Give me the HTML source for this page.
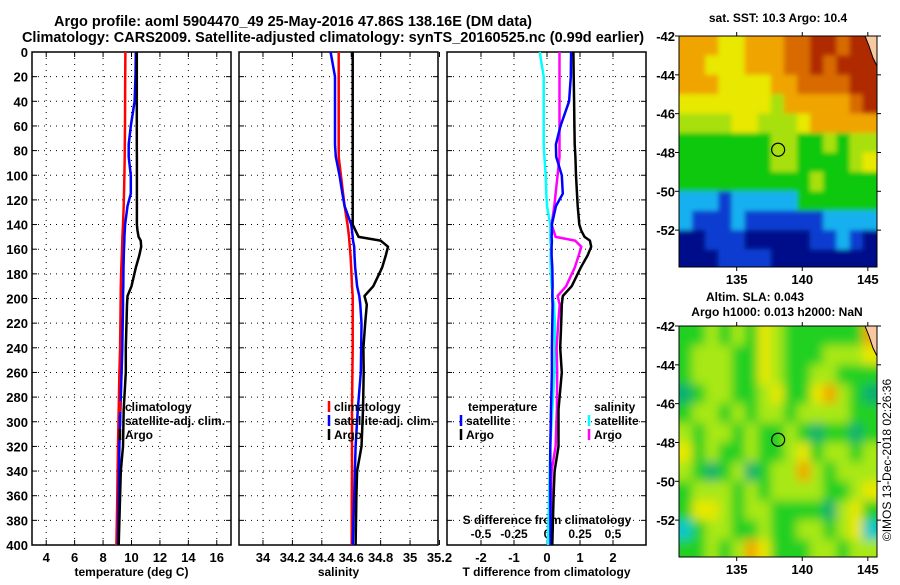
<!DOCTYPE html>
<html><head><meta charset="utf-8"><style>
body{margin:0;background:#fff;}
svg text{font-family:"Liberation Sans",Arial,sans-serif;font-weight:bold;fill:#000;}
</style></head><body>
<svg id="c" width="900" height="580" xmlns="http://www.w3.org/2000/svg">
<defs>
<filter id="blurS" x="-0.1" y="-0.1" width="1.2" height="1.2"><feGaussianBlur stdDeviation="2.5"/></filter>
<filter id="blurL" x="-0.1" y="-0.1" width="1.2" height="1.2"><feGaussianBlur stdDeviation="5"/></filter>
</defs>
<text x="293" y="26" font-size="14.5" text-anchor="middle">Argo profile: aoml 5904470_49 25-May-2016 47.86S 138.16E (DM data)</text>
<text x="333" y="42" font-size="14.5" text-anchor="middle">Climatology: CARS2009. Satellite-adjusted climatology: synTS_20160525.nc (0.99d earlier)</text>
<text x="778" y="22" font-size="12" text-anchor="middle">sat. SST: 10.3 Argo: 10.4</text>
<text x="755" y="301" font-size="12" text-anchor="middle">Altim. SLA: 0.043</text>
<text x="777" y="316" font-size="12" text-anchor="middle">Argo h1000: 0.013 h2000: NaN</text>
<text transform="translate(891,460) rotate(-90)" font-size="12" text-anchor="middle" style="font-weight:normal">©IMOS 13-Dec-2018 02:26:36</text>
</svg>
<script>
// ---- profile data (depth in m) ----
const depths=[0,20,40,60,75,85,100,115,125,140,145,150,153,158,165,175,190,198,205,220,240,260,290,320,340,360,400];
const climT=[9.57,9.56,9.55,9.54,9.53,9.52,9.5,9.47,9.45,9.4,9.38,9.36,9.35,9.34,9.32,9.28,9.25,9.24,9.23,9.22,9.2,9.15,9.1,9.05,9.02,9.0,8.94];
const satT=[10.3,10.28,10.22,9.95,9.8,9.8,9.95,9.95,9.72,9.55,9.53,9.5,9.5,9.48,9.46,9.44,9.42,9.4,9.4,9.38,9.35,9.3,9.22,9.15,9.12,9.1,9.05];
const argoT=[10.37,10.37,10.37,10.37,10.37,10.38,10.38,10.38,10.38,10.38,10.42,10.5,10.65,10.68,10.55,10.3,10.0,9.72,9.68,9.65,9.6,9.6,9.45,9.4,9.25,9.2,9.1];
const climS=[34.515,34.515,34.515,34.515,34.515,34.515,34.53,34.545,34.555,34.575,34.58,34.585,34.587,34.59,34.595,34.6,34.605,34.61,34.61,34.61,34.61,34.608,34.605,34.605,34.605,34.604,34.603];
const satS=[34.46,34.49,34.49,34.49,34.49,34.495,34.52,34.54,34.555,34.6,34.605,34.61,34.612,34.62,34.622,34.627,34.64,34.655,34.662,34.67,34.668,34.665,34.645,34.63,34.625,34.62,34.61];
const argoS=[34.61,34.61,34.61,34.61,34.61,34.61,34.61,34.61,34.61,34.61,34.63,34.65,34.8,34.85,34.835,34.81,34.75,34.69,34.706,34.695,34.683,34.685,34.68,34.67,34.64,34.635,34.63];
const depthTicks=[0,20,40,60,80,100,120,140,160,180,200,220,240,260,280,300,320,340,360,380,400];
const tTicks=[4,6,8,10,12,14,16];
const sTicks=[34,34.2,34.4,34.6,34.8,35,35.2];
const dTicks=[-2,-1,0,1,2];
const dTickLabels=["-2","-1","0","1","2"];
const sdTicks=[-0.5,-0.25,0,0.25,0.5];
const sdTickLabels=["-0.5","-0.25","0","0.25","0.5"];
// ---- map data (1-degree cells, rows from -42 southward, cols from 130.6 eastward) ----
const sstGrid=[
[6,6,6,5,5,6,6,6,7,7,8,8,7,8,8],
[6,6,5,5,5,6,6,6,7,7,8,7,8,8,8],
[6,6,6,5,5,5,5,6,6,7,7,7,7,8,8],
[5,5,5,5,5,5,5,4,6,6,6,6,6,7,8],
[4,4,4,4,5,5,4,4,4,5,6,6,6,6,6],
[3,3,3,3,3,3,3,4,4,3,3,4,3,4,4],
[3,3,3,3,3,3,3,4,4,3,3,3,3,4,5],
[3,3,3,3,3,3,3,3,3,3,4,3,3,3,3],
[2,2,2,1,2,2,2,2,2,3,3,3,3,3,3],
[2,1,1,1,2,1,1,1,1,1,1,2,2,2,2],
[0,0,1,1,1,0,0,0,0,0,1,1,2,1,0],
[0,0,0,1,1,1,1,0,0,0,0,0,0,0,0]];
const slaGrid=[
[2,2,3,2,3,2,4,3,2,2,2,2,2,2,5],
[2,3,3,3,2,2,4,3,2,2,2,3,3,3,4],
[2,3,3,3,2,2,4,3,2,2,3,3,2,2,2],
[1,2,3,3,2,2,3,4,2,2,4,5,3,2,1],
[2,3,3,2,3,2,3,3,2,3,3,3,3,2,2],
[3,2,3,3,2,3,2,2,3,2,1,2,2,1,2],
[4,2,3,2,2,3,2,2,3,4,2,3,3,2,3],
[3,2,1,2,3,1,2,3,3,5,3,2,3,3,3],
[2,3,3,3,2,3,2,3,3,3,3,2,2,3,4],
[2,4,4,3,2,3,3,2,2,2,2,1,3,4,2],
[0,2,3,3,2,2,3,2,2,3,3,2,3,4,0],
[2,2,3,2,3,5,4,2,2,2,3,3,2,3,3]];
const sstColors=["#000a8a","#0a3cd0","#14b0f0","#10c810","#a8e010","#e8e800","#f0a400","#d86a00","#b02a00"];
const slaColors=["#10c8c8","#08b070","#20d020","#a8e818","#e8e800","#f0a800"];
const lonTicks=[135,140,145];
const latTicks=[-42,-44,-46,-48,-50,-52];
const argoLon=138.16, argoLat=-47.86;

const svg=document.getElementById('c');
const NS='http://www.w3.org/2000/svg';
function mk(tag,attrs,parent){const e=document.createElementNS(NS,tag);for(const k in attrs)e.setAttribute(k,attrs[k]);(parent||svg).appendChild(e);return e;}
const Y0=52,Y1=545;
const yD=d=>Y0+(d/400)*(Y1-Y0);

function panel(name,x0,x1,vmin,vmax){
  const g=mk('g',{});
  
  
  const sx=v=>x0+(v-vmin)/(vmax-vmin)*(x1-x0);
  return {g,sx,x0,x1};
}
function frame(p,xt,xlab,xlabText){
  const {g,sx,x0,x1}=p;
  depthTicks.forEach(d=>{
    const y=yD(d);
    if(d>0&&d<400){const l=mk('line',{x1:x0,x2:x1,y1:y,y2:y,stroke:'#000','stroke-width':1,'stroke-dasharray':'1,5'},g);
      }
    mk('line',{x1:x0,x2:x0+5,y1:y,y2:y,stroke:'#000'},g);
    mk('line',{x1:x1-5,x2:x1,y1:y,y2:y,stroke:'#000'},g);
  });
  xt.forEach(v=>{const x=sx(v);
    if(x>x0+1&&x<x1-1){const l=mk('line',{x1:x,x2:x,y1:Y0,y2:Y1,stroke:'#000','stroke-width':1,'stroke-dasharray':'1,5'},g);
      }
    mk('line',{x1:x,x2:x,y1:Y1-5,y2:Y1,stroke:'#000'},g);
    mk('line',{x1:x,x2:x,y1:Y0,y2:Y0+5,stroke:'#000'},g);
  });
  const r=mk('rect',{x:x0,y:Y0,width:x1-x0,height:Y1-Y0,fill:'none',stroke:'#000','stroke-width':1.5},g);
  
  xt.forEach((v,i)=>{const t=mk('text',{x:sx(v),y:562,'font-size':13,'text-anchor':'middle'},g);
    t.textContent=xlab?xlab[i]:String(v);
    });
  const t=mk('text',{x:(x0+x1)/2,y:576,'font-size':12,'text-anchor':'middle'},g);
  t.textContent=xlabText;
}
function line(p,vals,color,name,w){
  const pts=vals.map((v,i)=>p.sx(v).toFixed(1)+','+yD(depths[i]).toFixed(1)).join(' ');
  const l=mk('polyline',{points:pts,fill:'none',stroke:color,'stroke-width':w||2.5,'stroke-linejoin':'round'},p.g);
  
}
function legend(p,x,y,items){
  items.forEach((it,i)=>{
    if(it.c){const m=mk('line',{x1:x,x2:x,y1:y+i*14-10,y2:y+i*14+1,stroke:it.c,'stroke-width':2.5},p.g);
      }
    const t=mk('text',{x:x+(it.c?5:0),y:y+i*14,'font-size':12},p.g);t.textContent=it.t;
    
  });
}
depthTicks.forEach(d=>{const t=mk('text',{x:28,y:yD(d)+5,'font-size':13,'text-anchor':'end'});t.textContent=d;
  });

const p1=panel('temperature-panel',32,231,3,17);
frame(p1,tTicks,null,'temperature (deg C)');
line(p1,climT,'#f00','climatology-temperature-line');
line(p1,satT,'#00f','satellite-temperature-line');
line(p1,argoT,'#000','argo-temperature-line');
legend(p1,120,411,[{c:'#f00',t:'climatology'},{c:'#00f',t:'satellite-adj. clim.'},{c:'#000',t:'Argo'}]);

const p2=panel('salinity-panel',239,438,33.837,35.19);
frame(p2,sTicks,null,'salinity');
line(p2,climS,'#f00','climatology-salinity-line');
line(p2,satS,'#00f','satellite-salinity-line');
line(p2,argoS,'#000','argo-salinity-line');
legend(p2,329,411,[{c:'#f00',t:'climatology'},{c:'#00f',t:'satellite-adj. clim.'},{c:'#000',t:'Argo'}]);

const p3=panel('difference-panel',447,646,-3.03,3.0);
frame(p3,dTicks,dTickLabels,'T difference from climatology');
const sdx=v=>p3.sx(v*4);
const tl=mk('text',{x:547,y:524,'font-size':12,'text-anchor':'middle'},p3.g);tl.textContent='S difference from climatology';

sdTicks.forEach((v,i)=>{const t=mk('text',{x:sdx(v),y:538,'font-size':12,'text-anchor':'middle'},p3.g);t.textContent=sdTickLabels[i];
  });
line(p3,satS.map((v,i)=>(v-climS[i])*4),'#0ff','satellite-salinity-diff-line');
line(p3,argoS.map((v,i)=>(v-climS[i])*4),'#f0f','argo-salinity-diff-line');
line(p3,satT.map((v,i)=>v-climT[i]),'#00f','satellite-temperature-diff-line');
line(p3,argoT.map((v,i)=>v-climT[i]),'#000','argo-temperature-diff-line');
legend(p3,468,411,[{t:'temperature'}]);
legend(p3,461,425,[{c:'#00f',t:'satellite'},{c:'#000',t:'Argo'}]);
legend(p3,594,411,[{t:'salinity'}]);
legend(p3,589,425,[{c:'#0ff',t:'satellite'},{c:'#f0f',t:'Argo'}]);

function map(name,grid,colors,top,bottom,blur){
  const L=679,R=877,lonMin=130.6,lonMax=145.7,latMin=-53.9;
  const sx=lo=>L+(lo-lonMin)/(lonMax-lonMin)*(R-L);
  const sy=la=>top+(-42-la)/(-42-latMin)*(bottom-top);
  const g=mk('g',{});
  
  const cp=mk('clipPath',{id:name+'-clip'},g);mk('rect',{x:L,y:top,width:R-L,height:bottom-top},cp);
  const cg=mk('g',{'clip-path':'url(#'+name+'-clip)'},g);
  const bg=mk('g',{filter:'url(#'+blur+')'},cg);
  const nr=grid.length,nc=grid[0].length;
  grid.forEach((row,r)=>row.forEach((v,c)=>{
    let x=sx(lonMin+c),y=sy(-42-r);
    let w=sx(lonMin+c+1)-x+0.6,h=sy(-43-r)-y+0.6;
    if(c===0){x-=15;w+=15;} if(c===nc-1){w+=15;}
    if(r===0){y-=15;h+=15;} if(r===nr-1){h+=15;}
    const cell=mk('rect',{x:x.toFixed(1),y:y.toFixed(1),width:w.toFixed(1),height:h.toFixed(1),fill:colors[v]},bg);
    
  }));
  const land=mk('path',{d:`M${R-12},${top} L${R},${top} L${R},${top+30} L${R-4},${top+22} L${R-8},${top+10} Z`,fill:'#f8c8a0',stroke:'#000','stroke-width':1},cg);
  
  const ci=mk('circle',{cx:sx(argoLon),cy:sy(argoLat),r:6.5,fill:'none',stroke:'#000','stroke-width':1.2},g);
  
  mk('rect',{x:L,y:top,width:R-L,height:bottom-top,fill:'none',stroke:'#000','stroke-width':1},g);
  lonTicks.forEach(lo=>{const x=sx(lo);mk('line',{x1:x,x2:x,y1:top-4,y2:top,stroke:'#000'},g);mk('line',{x1:x,x2:x,y1:bottom,y2:bottom+4,stroke:'#000'},g);
    const t=mk('text',{x:x,y:bottom+17,'font-size':13,'text-anchor':'middle'},g);t.textContent=lo;
    });
  latTicks.forEach(la=>{const y=sy(la);mk('line',{x1:L-4,x2:L,y1:y,y2:y,stroke:'#000'},g);mk('line',{x1:R,x2:R+4,y1:y,y2:y,stroke:'#000'},g);
    const t=mk('text',{x:L-4,y:y+5,'font-size':13,'text-anchor':'end'},g);t.textContent=la;
    });
}
map('sst-map',sstGrid,sstColors,36,267,'blurS');
map('sla-map',slaGrid,slaColors,326,557,'blurL');
</script>
</body></html>
